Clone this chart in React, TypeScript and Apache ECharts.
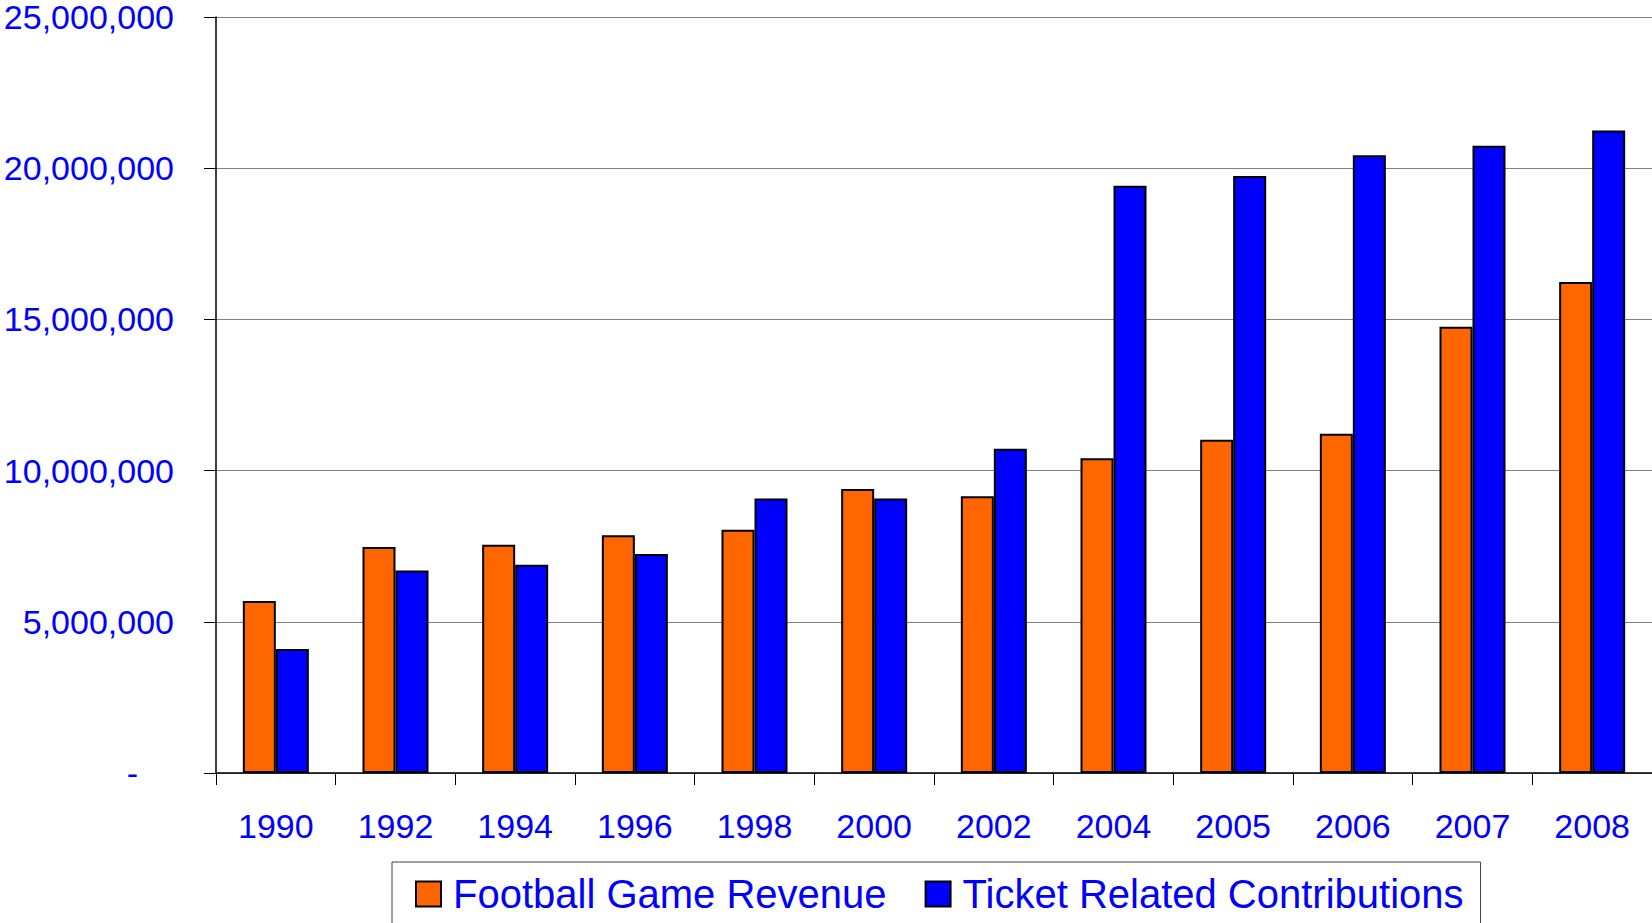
import React, { useEffect, useRef } from "react";
import * as echarts from "echarts";

const years = ["1990", "1992", "1994", "1996", "1998", "2000", "2002", "2004", "2005", "2006", "2007", "2008"];
const footballGameRevenue = [5690000, 7470000, 7550000, 7860000, 8040000, 9390000, 9150000, 10410000, 11020000, 11220000, 14760000, 16240000];
const ticketRelatedContributions = [4100000, 6700000, 6890000, 7240000, 9080000, 9080000, 10720000, 19420000, 19740000, 20430000, 20740000, 21250000];
const seriesNames = ["Football Game Revenue", "Ticket Related Contributions"];

const FONT = "'Liberation Sans', Arial, sans-serif";
const BLUE_TEXT = "#0000FF";

export default function App() {
  const ref = useRef<HTMLDivElement>(null);
  useEffect(() => {
    if (!ref.current) return;
    const chart = echarts.init(ref.current, undefined, { renderer: "svg" });
    chart.setOption({
      animation: false,
      backgroundColor: "#ffffff",
      grid: { left: 216, top: 17, right: 0, bottom: 150, containLabel: false },
      legend: {
        data: seriesNames,
        left: 392,
        top: 862,
        orient: "horizontal",
        padding: [12, 17, 40, 23],
        itemGap: 38,
        itemWidth: 25,
        itemHeight: 25,
        icon: "rect",
        borderColor: "#404040",
        borderWidth: 1,
        itemStyle: { borderColor: "#000", borderWidth: 2 },
        textStyle: { fontFamily: FONT, fontSize: 40, color: BLUE_TEXT, padding: [0, 0, 0, 7] },
      },
      xAxis: {
        type: "category",
        data: years,
        axisLine: { show: true, lineStyle: { color: "#000", width: 1.5 } },
        axisTick: { show: true, length: 12, inside: false, lineStyle: { color: "#000", width: 1 } },
        axisLabel: { fontFamily: FONT, fontSize: 34, color: BLUE_TEXT, margin: 36, interval: 0 },
        splitLine: { show: false },
      },
      yAxis: {
        type: "value",
        min: 0,
        max: 25000000,
        interval: 5000000,
        axisLine: { show: true, lineStyle: { color: "#000", width: 1.5 } },
        axisTick: { show: true, length: 12, inside: false, lineStyle: { color: "#000", width: 1 } },
        splitLine: { show: true, lineStyle: { color: "#808080", width: 1 } },
        axisLabel: {
          fontFamily: FONT,
          fontSize: 34,
          color: BLUE_TEXT,
          margin: 42,
          formatter: (v: number) => (v === 0 ? "{d|-}" : v.toLocaleString("en-US")),
          rich: { d: { fontFamily: FONT, fontSize: 34, color: BLUE_TEXT, padding: [0, 36, 0, 0] } },
        },
      },
      series: [
        {
          name: seriesNames[0],
          type: "bar",
          data: footballGameRevenue,
          barWidth: 33,
          barGap: "0%",
          itemStyle: { color: "#FF6600", borderColor: "#000", borderWidth: 2 },
        },
        {
          name: seriesNames[1],
          type: "bar",
          data: ticketRelatedContributions,
          barWidth: 33,
          barGap: "0%",
          itemStyle: { color: "#0000FF", borderColor: "#000", borderWidth: 2 },
        },
      ],
    });
    return () => chart.dispose();
  }, []);
  return (
    <div
      ref={ref}
      style={{ position: "fixed", left: 0, top: 0, width: 1652, height: 923, background: "#fff" }}
    />
  );
}
